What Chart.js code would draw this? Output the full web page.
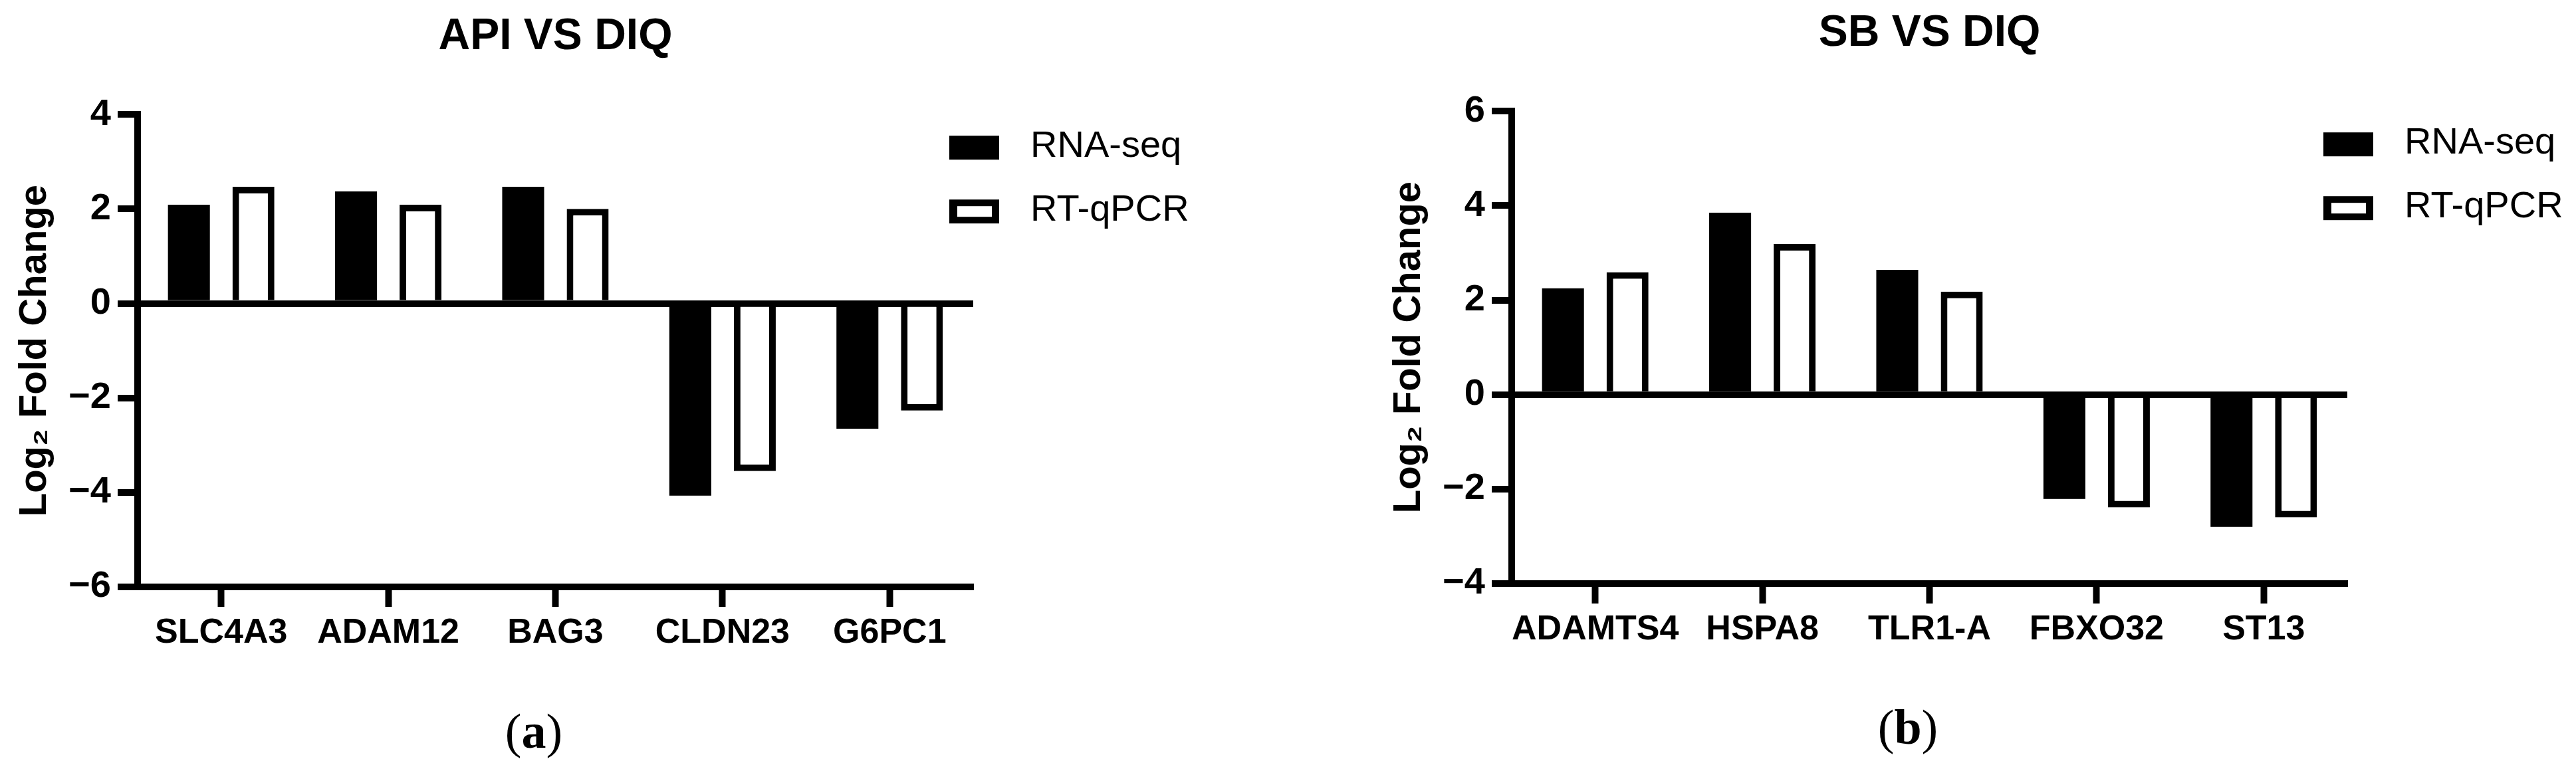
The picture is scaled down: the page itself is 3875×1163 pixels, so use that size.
<!DOCTYPE html>
<html>
<head>
<meta charset="utf-8">
<script src="https://cdn.jsdelivr.net/npm/chart.js@4.4.1/dist/chart.umd.min.js"></script>
<style>
  html, body { margin: 0; padding: 0; background: #fff; }
  body { width: 3875px; height: 1163px; position: relative; overflow: hidden; }
  .panel { position: absolute; width: 1800px; height: 1000px; }
  .tag {
    position: absolute; width: 200px; text-align: center;
    font-family: "Liberation Serif", "DejaVu Serif", serif;
    font-size: 74px; line-height: 1; color: #000;
  }
</style>
</head>
<body>
<div class="panel" style="left:0px; top:0px;"><canvas id="chartA" width="1800" height="1000"></canvas></div>
<div class="panel" style="left:2067px; top:-5px;"><canvas id="chartB" width="1800" height="1000"></canvas></div>
<div class="tag" style="left:703px; top:1063px;">(<b>a</b>)</div>
<div class="tag" style="left:2770px; top:1057px;">(<b>b</b>)</div>

<script>
// panel (a): API VS DIQ
const genesA = ["SLC4A3", "ADAM12", "BAG3", "CLDN23", "G6PC1"];
const rnaSeqA = [2.09, 2.37, 2.47, -4.07, -2.65];
const qpcrA = [2.47, 2.09, 2.0, -3.55, -2.27];
const yTicksA = [-6, -4, -2, 0, 2, 4];

// panel (b): SB VS DIQ
const genesB = ["ADAMTS4", "HSPA8", "TLR1-A", "FBXO32", "ST13"];
const rnaSeqB = [2.25, 3.85, 2.64, -2.21, -2.80];
const qpcrB = [2.59, 3.19, 2.18, -2.39, -2.60];
const yTicksB = [-4, -2, 0, 2, 4, 6];

const FONT = '"Liberation Sans", Arial, Helvetica, sans-serif';

// legend drawn inside the top right corner, overlapping the plot like the original
const boxLegend = {
  id: "boxLegend",
  afterDraw(chart) {
    const { ctx, chartArea } = chart;
    const x = chartArea.right - 36;
    chart.data.datasets.forEach((ds, i) => {
      const y = chartArea.top + 32 + i * 96;
      ctx.save();
      ctx.fillStyle = "#000";
      ctx.fillRect(x, y, 75, 36);
      if (ds.borderWidth) {
        ctx.fillStyle = ds.backgroundColor;
        ctx.fillRect(x + 12, y + 10, 75 - 23, 36 - 20);
      }
      ctx.fillStyle = "#000";
      ctx.font = "56px " + FONT;
      ctx.textBaseline = "middle";
      ctx.textAlign = "left";
      ctx.fillText(ds.label, x + 122, y + 16);
      ctx.restore();
    });
  }
};

function makeChart(id, title, labels, rna, qpcr, ticks) {
  const ctx = document.getElementById(id).getContext("2d");
  return new Chart(ctx, {
    type: "bar",
    data: {
      labels: labels,
      datasets: [
        {
          label: "RNA-seq",
          data: rna,
          backgroundColor: "#000",
          borderWidth: 0,
          categoryPercentage: 0.772,
          barPercentage: 0.65,
        },
        {
          label: "RT-qPCR",
          data: qpcr,
          backgroundColor: "#fff",
          borderColor: "#000",
          borderWidth: 10,
          categoryPercentage: 0.772,
          barPercentage: 0.65,
        },
      ],
    },
    options: {
      responsive: false,
      animation: false,
      layout: { padding: { left: 0, right: 336, top: 0, bottom: 0 } },
      plugins: {
        legend: { display: false },
        tooltip: { enabled: false },
        title: {
          display: true,
          text: title,
          fullSize: false,
          color: "#000",
          font: { family: FONT, size: 66, weight: "bold" },
          padding: { top: 16, bottom: 77 },
        },
      },
      scales: {
        x: {
          afterFit: (scale) => { scale.height = 117; },
          grid: {
            offset: false,
            drawOnChartArea: false,
            drawTicks: true,
            tickLength: 30,
            tickWidth: 10,
            tickColor: "#000",
          },
          border: { display: true, color: "#000", width: 10 },
          ticks: {
            color: "#000",
            padding: 8,
            maxRotation: 0,
            autoSkip: false,
            font: { family: FONT, size: 52, weight: "bold" },
          },
        },
        y: {
          min: Math.min(...ticks),
          max: Math.max(...ticks),
          afterFit: (scale) => { scale.width = 207; },
          grid: {
            color: "#000",
            lineWidth: (c) => (c.tick && c.tick.value === 0 ? 10 : 0),
            drawTicks: true,
            tickLength: 30,
            tickWidth: 10,
            tickColor: "#000",
          },
          border: { display: true, color: "#000", width: 10 },
          ticks: {
            stepSize: 2,
            color: "#000",
            padding: 10,
            font: { family: FONT, size: 56, weight: "bold" },
            callback: (v) => (v < 0 ? "\u2212" + Math.abs(v) : String(v)),
          },
          title: {
            display: true,
            text: "Log\u2082 Fold Change",
            color: "#000",
            font: { family: FONT, size: 58, weight: "bold" },
            padding: { top: 18, bottom: 0 },
          },
        },
      },
    },
    plugins: [boxLegend],
  });
}

makeChart("chartA", "API VS DIQ", genesA, rnaSeqA, qpcrA, yTicksA);
makeChart("chartB", "SB VS DIQ", genesB, rnaSeqB, qpcrB, yTicksB);
</script>
</body>
</html>
